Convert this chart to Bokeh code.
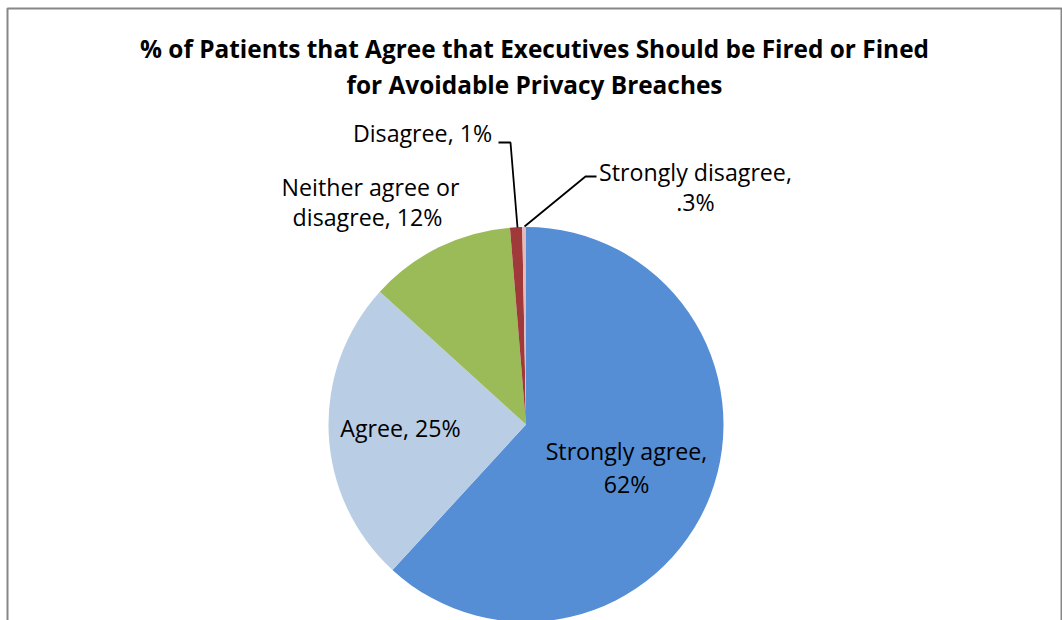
import numpy as np
from bokeh.plotting import figure
from bokeh.models import Range1d, ColumnDataSource
from bokeh.core.properties import value
from bokeh.embed import file_html
from bokeh.resources import INLINE

# ---- data ----
categories = ["Strongly agree", "Agree", "Neither agree or disagree", "Disagree", "Strongly disagree"]
values = [62, 25, 12, 1, 0.3]
value_labels = ["62%", "25%", "12%", "1%", ".3%"]
colors = ["#558ED5", "#B9CDE5", "#9BBB59", "#A0393A", "#E6B9B8"]
title_lines = ["% of Patients that Agree that Executives Should be Fired or Fined",
               "for Avoidable Privacy Breaches"]

W, H = 1062, 620
p = figure(width=W, height=H, output_backend="svg", toolbar_location=None,
           x_range=Range1d(0, W), y_range=Range1d(0, H), min_border=0)
p.axis.visible = False
p.grid.visible = False
p.outline_line_color = None
p.background_fill_color = "white"

def py(y):  # pixel-from-top to data y
    return H - y

# chart area border
p.quad(left=[7], right=[1061], top=[py(8)], bottom=[py(640)],
       fill_color=None, line_color="#878787", line_width=2)

# pie
cx, cy, r = 525.5, py(424), 197.5
vals = np.array(values, dtype=float)
frac = vals / vals.sum()
cum = np.concatenate([[0], np.cumsum(frac)])
start = np.pi / 2 - cum[1:] * 2 * np.pi
end = np.pi / 2 - cum[:-1] * 2 * np.pi
src = ColumnDataSource(dict(start=start, end=end, color=colors))
p.wedge(x=cx, y=cy, radius=r, start_angle="start", end_angle="end",
        fill_color="color", line_color=None, source=src)

font = value("Open Sans")
# title
for i, t in enumerate(title_lines):
    p.text(x=[534], y=[py(48 + 36 * i)], text=[t], text_font=font, text_font_size="24.4px",
           text_font_style="bold", text_align="center", text_baseline="middle", text_color="black")

# data labels (layout positions)
label_pos = [
    ([626, 626], [450, 483], [categories[0] + ",", value_labels[0]]),
    ([400], [427], [categories[1] + ", " + value_labels[1]]),
    ([370, 367], [186, 216], ["Neither agree or", "disagree, " + value_labels[2]]),
    ([422], [132], [categories[3] + ", " + value_labels[3]]),
    ([695, 695], [171, 201], [categories[4] + ",", value_labels[4]]),
]
for xs, ys, ts in label_pos:
    p.text(x=xs, y=[py(v) for v in ys], text=ts, text_font=font, text_font_size="23.2px",
           text_align="center", text_baseline="middle", text_color="black")

# leader lines
p.line(x=[498, 510, 517], y=[py(142), py(142), py(227)], line_color="black", line_width=1.8)
p.line(x=[524, 585, 596], y=[py(226), py(176), py(176)], line_color="black", line_width=1.8)

open("out.html", "w").write(file_html(p, INLINE))
